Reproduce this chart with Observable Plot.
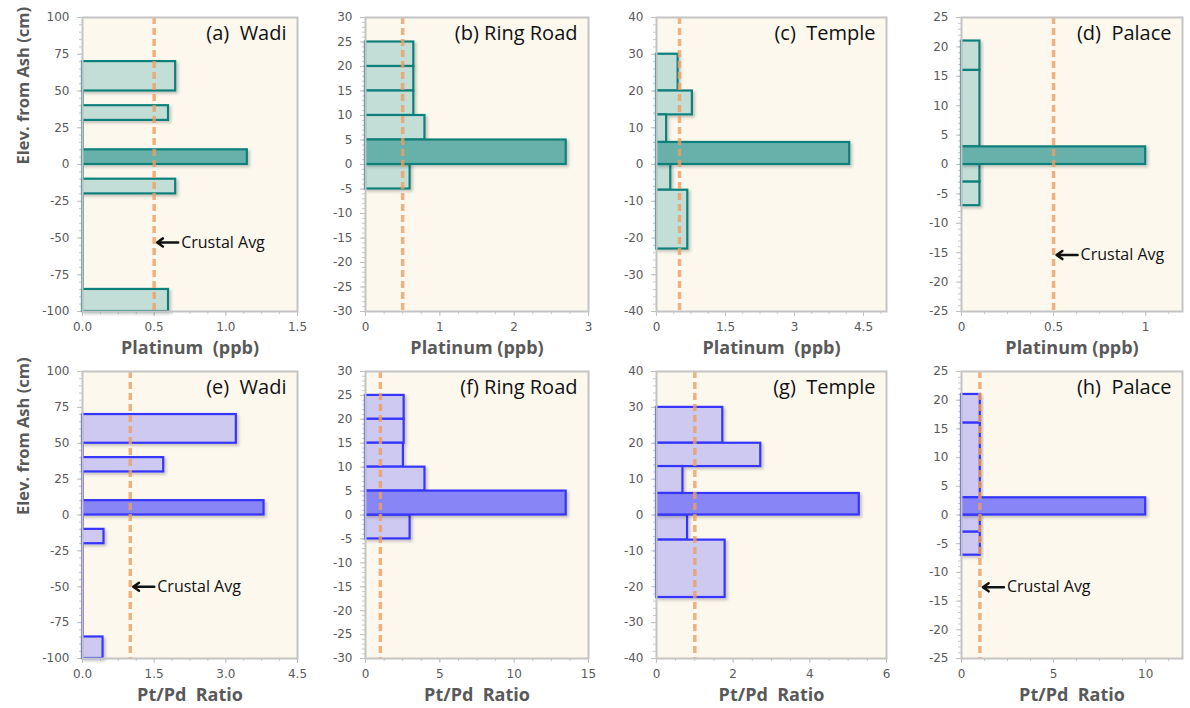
<!DOCTYPE html>
<html><head><meta charset="utf-8">
<script src="https://cdn.jsdelivr.net/npm/d3@7"></script>
<script src="https://cdn.jsdelivr.net/npm/@observablehq/plot@0.6"></script>
<style>
body{margin:0;background:#fff;}
#chart{position:relative;width:1190px;height:708px;overflow:hidden;background:#fff;}
#chart > div{position:absolute;}
#chart svg{overflow:visible;background:none !important;max-width:none !important;}
</style></head><body><div id="chart"></div>
<script>
// ---- data ----
const siteNames = ["Wadi", "Ring Road", "Temple", "Palace"];
const panelLabels = ["(a)\u00a0\u00a0Wadi", "(b) Ring Road", "(c)\u00a0\u00a0Temple", "(d)\u00a0\u00a0Palace",
                     "(e)\u00a0\u00a0Wadi", "(f) Ring Road", "(g)\u00a0\u00a0Temple", "(h)\u00a0\u00a0Palace"];
const xTitlesPt = ["Platinum\u00a0\u00a0(ppb)", "Platinum (ppb)", "Platinum\u00a0\u00a0(ppb)", "Platinum (ppb)"];
const xTitleRatio = "Pt/Pd\u00a0\u00a0Ratio";
const yTitle = "Elev. from Ash (cm)";

// elevation intervals (cm) per site
const wadiTop    = [70, 40, 10, -10, -85];
const wadiBottom = [50, 30, 0, -20, -100];
const ringTop    = [25, 20, 15, 10, 5, 0];
const ringBottom = [20, 15, 10, 5, 0, -5];
const templeTop    = [30, 20, 13.5, 6, 0, -7];
const templeBottom = [20, 13.5, 6, 0, -7, -23];
const palaceTop    = [21, 16, 3, 0, -3];
const palaceBottom = [16, 3, 0, -3, -7];

// platinum (ppb)
const wadiPt   = [0.65, 0.60, 1.15, 0.65, 0.60];
const ringPt   = [0.65, 0.65, 0.65, 0.80, 2.70, 0.60];
const templePt = [0.47, 0.78, 0.22, 4.20, 0.31, 0.68];
const palacePt = [0.10, 0.10, 1.00, 0.10, 0.10];

// Pt/Pd ratio
const wadiRatio   = [3.22, 1.70, 3.80, 0.45, 0.43];
const ringRatio   = [2.60, 2.60, 2.55, 4.00, 13.50, 3.00];
const templeRatio = [1.73, 2.72, 0.69, 5.29, 0.81, 1.79];
const palaceRatio = [1.02, 1.02, 10.0, 1.02, 1.02];

const crustalPt = 0.5;
const crustalRatio = 1.0;
const crustalText = "Crustal Avg";

// axis domains & tick labels
const xMaxPt    = [1.5, 3, 5, 1.2];
const xMaxRatio = [4.5, 15, 6, 12];
const xTicksPt    = [[0, 0.5, 1, 1.5], [0, 1, 2, 3], [0, 1.5, 3, 4.5], [0, 0.5, 1]];
const xTicksRatio = [[0, 1.5, 3, 4.5], [0, 5, 10, 15], [0, 2, 4, 6], [0, 5, 10]];
const xDecimalsPt    = [1, 0, 0, 0];
const xDecimalsRatio = [1, 0, 0, 0];
const yRanges = [[-100, 100], [-30, 30], [-40, 40], [-25, 25]];
const yTickStep = [25, 5, 10, 5];
// "Crustal Avg" annotation elevation per panel (null = none)
const annotPt    = [-53, null, null, -15.4];
const annotRatio = [-50, null, null, -12.6];

// ---- layout & style ----
const colLeft = [82, 365, 656, 961];
const colRight = [297, 588, 886, 1182];
const rowTop = [17, 371];
const rowBottom = [311, 658];
const styles = [
  {stroke: "#10807b", light: "#c3ded7", dark: "#67b1aa"},
  {stroke: "#3535ff", light: "#cdc9f1", dark: "#8886f6"}
];
const tickFont = "DejaVu Sans, Verdana, sans-serif";
const textFont = "Open Sans, Lato, sans-serif";

const sites = [
  {top: wadiTop, bottom: wadiBottom, pt: wadiPt, ratio: wadiRatio},
  {top: ringTop, bottom: ringBottom, pt: ringPt, ratio: ringRatio},
  {top: templeTop, bottom: templeBottom, pt: templePt, ratio: templeRatio},
  {top: palaceTop, bottom: palaceBottom, pt: palacePt, ratio: palaceRatio}
];

function fmtX(dec) {
  return d => dec ? d.toFixed(dec) : String(d);
}

const chart = document.getElementById("chart");

for (let row = 0; row < 2; row++) {
  for (let col = 0; col < 4; col++) {
    const s = sites[col];
    const st = styles[row];
    const vals = row === 0 ? s.pt : s.ratio;
    const rows = s.top.map((t, i) => ({top: t, bottom: s.bottom[i], v: vals[i], ash: s.bottom[i] === 0}));
    // zero-valued gaps between sampled intervals (drawn along the axis)
    const gaps = [];
    for (let i = 0; i < rows.length - 1; i++) {
      if (rows[i].bottom > rows[i + 1].top) gaps.push({y1: rows[i + 1].top, y2: rows[i].bottom});
    }
    const xMax = row === 0 ? xMaxPt[col] : xMaxRatio[col];
    const xTicks = row === 0 ? xTicksPt[col] : xTicksRatio[col];
    const dec = row === 0 ? xDecimalsPt[col] : xDecimalsRatio[col];
    const [y0, y1] = yRanges[col];
    const yMajor = d3.range(y0, y1 + 1e-9, yTickStep[col]);
    const yMinor = d3.range(y0, y1 + 1e-9, yTickStep[col] / 5);
    const xStep = xTicks[1] - xTicks[0];
    const xMinor = d3.range(0, xMax + 1e-9, xStep / 4);
    const crustal = row === 0 ? crustalPt : crustalRatio;
    const annot = row === 0 ? annotPt[col] : annotRatio[col];

    const fl = colLeft[col], fr = colRight[col], ft = rowTop[row], fb = rowBottom[row];
    const svgLeft = col === 0 ? 0 : fl - 64;
    const marginLeft = fl - svgLeft;
    const marginRight = 14, marginTop = 12, marginBottom = 50;
    const width = fr - svgLeft + marginRight;
    const height = fb - ft + marginTop + marginBottom;

    const fw = fr - fl;
    const pxToX = xMax / fw;

    const marks = [
      Plot.frame({fill: "#fdf8ee", stroke: null}),
      Plot.axisY({ticks: yMinor, tickSize: 3, tickFormat: () => "", label: null, stroke: "#c8c8c8"}),
      Plot.axisX({ticks: xMinor, tickSize: 3, tickFormat: () => "", label: null, stroke: "#c8c8c8"}),
      Plot.axisY({ticks: yMajor, tickSize: 5, tickPadding: 8, tickFormat: d => String(d), label: null,
                  stroke: "#c0c0c0", fill: "#595959", fontSize: 12, fontFamily: tickFont}),
      Plot.axisX({ticks: xTicks, tickSize: 5, tickPadding: 6, tickFormat: fmtX(dec), label: null,
                  stroke: "#c0c0c0", fill: "#595959", fontSize: 12, fontFamily: tickFont}),
      Plot.rectX(rows.filter(d => !d.ash), {x1: 0, x2: "v", y1: "bottom", y2: "top",
                  fill: st.light, stroke: st.stroke, strokeWidth: 2.2}),
      Plot.rectX(rows.filter(d => d.ash), {x1: 0, x2: "v", y1: "bottom", y2: "top",
                  fill: st.dark, stroke: st.stroke, strokeWidth: 2.2}),
      Plot.ruleX(gaps, {x: 0, y1: "y1", y2: "y2", stroke: st.stroke, strokeWidth: 2.6}),
      Plot.ruleX([crustal], {stroke: "#ee9f62", strokeOpacity: 0.8, strokeWidth: 3.5, strokeDasharray: "7,4"}),
      Plot.frame({stroke: "#c4c4c4", strokeWidth: 2}),
      Plot.text([panelLabels[row * 4 + col]], {frameAnchor: "top-right", lineAnchor: "middle", dx: -11, dy: 16,
                  textAnchor: "end", fontSize: 20, fontFamily: textFont, fill: "#111"}),
      Plot.text([row === 0 ? xTitlesPt[col] : xTitleRatio], {frameAnchor: "bottom", lineAnchor: "middle", dy: 37,
                  fontSize: 18, fontWeight: "bold", fontFamily: textFont, fill: "#595959"})
    ];
    if (col === 0) {
      marks.push(Plot.text([yTitle], {frameAnchor: "left", lineAnchor: "middle", dx: -59, rotate: -90,
                  fontSize: 16.5, fontWeight: "bold", fontFamily: textFont, fill: "#595959"}));
    }
    if (annot !== null) {
      const a = [{y: annot, x1: crustal + 24 * pxToX, x2: crustal + 3 * pxToX, xt: crustal + 27 * pxToX}];
      marks.push(Plot.arrow(a, {x1: "x1", x2: "x2", y1: "y", y2: "y", stroke: "#111",
                  strokeWidth: 2.5, headLength: 9, headAngle: 70, bend: 0}));
      marks.push(Plot.text(a, {x: "xt", y: "y", text: () => crustalText, textAnchor: "start",
                  fontSize: 16, fontFamily: textFont, fill: "#111"}));
    }

    const svg = Plot.plot({
      width, height, marginLeft, marginRight, marginTop, marginBottom,
      style: {background: "transparent", overflow: "visible", maxWidth: "none"},
      x: {domain: [0, xMax], axis: null},
      y: {domain: [y0, y1], axis: null},
      marks
    });
    // soft drop shadow under the bars
    const ns = "http://www.w3.org/2000/svg";
    const defs = document.createElementNS(ns, "defs");
    const fid = `shadow${row}${col}`;
    defs.innerHTML = `<filter id="${fid}" x="-10%" y="-30%" width="130%" height="180%">
      <feDropShadow dx="2" dy="2" stdDeviation="1.6" flood-color="#000" flood-opacity="0.22"/></filter>`;
    svg.insertBefore(defs, svg.firstChild);
    svg.querySelectorAll('g[aria-label="rect"]').forEach(g => g.setAttribute("filter", `url(#${fid})`));

    const div = document.createElement("div");
    div.style.left = svgLeft + "px";
    div.style.top = (ft - marginTop) + "px";
    div.style.width = width + "px";
    div.style.height = height + "px";
    div.appendChild(svg);
    chart.appendChild(div);
  }
}
</script></body></html>
